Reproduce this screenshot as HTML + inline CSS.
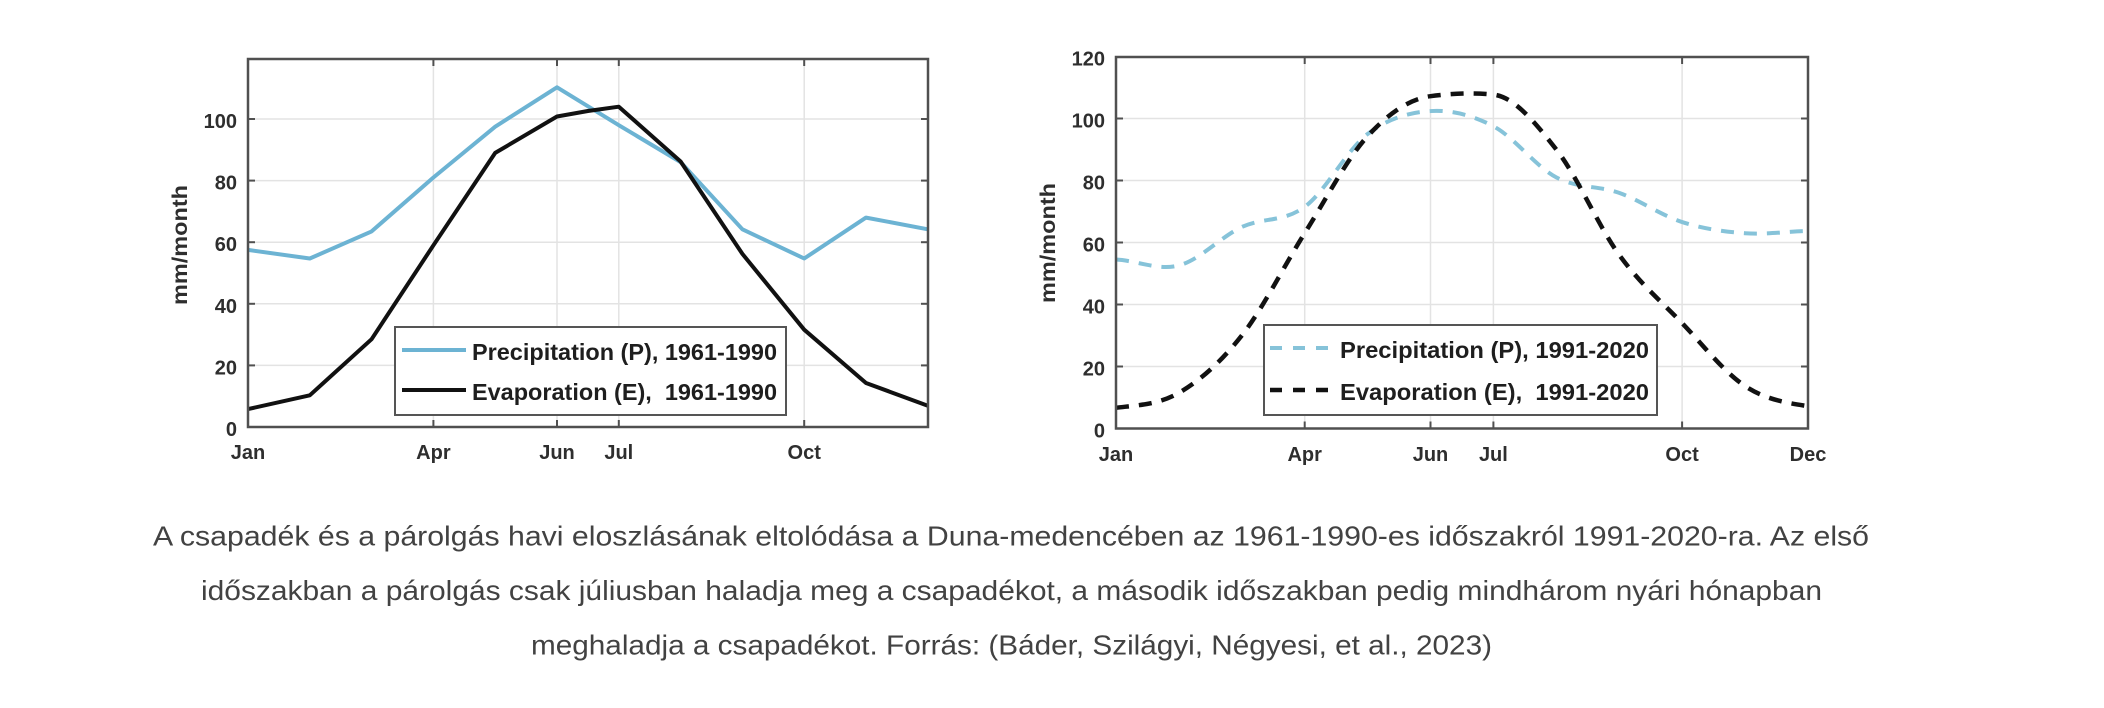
<!DOCTYPE html>
<html>
<head>
<meta charset="utf-8">
<style>
  html, body { margin: 0; padding: 0; background: #ffffff; }
  body { width: 2104px; height: 708px; overflow: hidden; }
  svg { display: block; }
  .tick { font-family: "Liberation Sans", Arial, sans-serif; font-weight: bold; font-size: 20px; fill: #2e2e2e; }
  .leg { font-family: "Liberation Sans", Arial, sans-serif; font-weight: bold; font-size: 23px; fill: #1e1e1e; white-space: pre; }
  .ylab { font-family: "Liberation Sans", Arial, sans-serif; font-weight: bold; font-size: 21px; fill: #2e2e2e; }
  .cap { font-family: "Liberation Sans", "DejaVu Sans", sans-serif; font-size: 28px; fill: #424242; }
</style>
</head>
<body>
<svg width="2104" height="708" viewBox="0 0 2104 708" xmlns="http://www.w3.org/2000/svg">
  <rect x="0" y="0" width="2104" height="708" fill="#ffffff"/>

  <!-- ================= LEFT CHART ================= -->
  <g>
    <!-- grid -->
    <g stroke="#e3e3e3" stroke-width="1.5">
      <line x1="248" y1="365.4" x2="928" y2="365.4"/>
      <line x1="248" y1="303.8" x2="928" y2="303.8"/>
      <line x1="248" y1="242.2" x2="928" y2="242.2"/>
      <line x1="248" y1="180.6" x2="928" y2="180.6"/>
      <line x1="248" y1="119" x2="928" y2="119"/>
      <line x1="433.4" y1="59" x2="433.4" y2="427"/>
      <line x1="557" y1="59" x2="557" y2="427"/>
      <line x1="618.8" y1="59" x2="618.8" y2="427"/>
      <line x1="804.2" y1="59" x2="804.2" y2="427"/>
    </g>
    <!-- ticks -->
    <g stroke="#505050" stroke-width="2">
      <line x1="248" y1="365.4" x2="255" y2="365.4"/>
      <line x1="248" y1="303.8" x2="255" y2="303.8"/>
      <line x1="248" y1="242.2" x2="255" y2="242.2"/>
      <line x1="248" y1="180.6" x2="255" y2="180.6"/>
      <line x1="248" y1="119" x2="255" y2="119"/>
      <line x1="928" y1="365.4" x2="921" y2="365.4"/>
      <line x1="928" y1="303.8" x2="921" y2="303.8"/>
      <line x1="928" y1="242.2" x2="921" y2="242.2"/>
      <line x1="928" y1="180.6" x2="921" y2="180.6"/>
      <line x1="928" y1="119" x2="921" y2="119"/>
      <line x1="433.4" y1="427" x2="433.4" y2="420"/>
      <line x1="557" y1="427" x2="557" y2="420"/>
      <line x1="618.8" y1="427" x2="618.8" y2="420"/>
      <line x1="804.2" y1="427" x2="804.2" y2="420"/>
      <line x1="433.4" y1="59" x2="433.4" y2="66"/>
      <line x1="557" y1="59" x2="557" y2="66"/>
      <line x1="618.8" y1="59" x2="618.8" y2="66"/>
      <line x1="804.2" y1="59" x2="804.2" y2="66"/>
    </g>
    <!-- series -->
    <polyline fill="none" stroke="#6cb3d3" stroke-width="4" stroke-linejoin="round"
      points="248,249.9 309.8,258.5 371.6,231.4 433.4,177.5 495.2,126.7 557,87.3 618.8,125.2 680.6,162.1 742.4,229.3 804.2,258.5 866,217.6 927.8,229.3"/>
    <polyline fill="none" stroke="#111111" stroke-width="4" stroke-linejoin="round"
      points="248,409.1 309.8,395.3 371.6,339.2 433.4,245.3 495.2,152.9 557,116.5 587.9,111 618.8,106.7 680.6,161.5 742.4,253.9 804.2,329.7 866,383 927.8,405.7"/>
    <!-- frame -->
    <rect x="248" y="59" width="680" height="368" fill="none" stroke="#505050" stroke-width="2.5"/>
    <!-- legend -->
    <rect x="395" y="327" width="391" height="88" fill="#ffffff" stroke="#555555" stroke-width="2"/>
    <line x1="402" y1="350" x2="466" y2="350" stroke="#6cb3d3" stroke-width="4"/>
    <line x1="402" y1="390" x2="466" y2="390" stroke="#111111" stroke-width="4"/>
    <text class="leg" x="472" y="360" textLength="305" lengthAdjust="spacingAndGlyphs">Precipitation (P), 1961-1990</text>
    <text class="leg" x="472" y="400" textLength="305" lengthAdjust="spacingAndGlyphs" xml:space="preserve">Evaporation (E),  1961-1990</text>
    <!-- y tick labels -->
    <g class="tick" text-anchor="end">
      <text x="237" y="436">0</text>
      <text x="237" y="374.4">20</text>
      <text x="237" y="312.8">40</text>
      <text x="237" y="251.2">60</text>
      <text x="237" y="189.6">80</text>
      <text x="237" y="128">100</text>
    </g>
    <!-- x tick labels -->
    <g class="tick" text-anchor="middle">
      <text x="248" y="459">Jan</text>
      <text x="433.4" y="459">Apr</text>
      <text x="557" y="459">Jun</text>
      <text x="618.8" y="459">Jul</text>
      <text x="804.2" y="459">Oct</text>
    </g>
    <text class="ylab" transform="translate(187,245) rotate(-90)" text-anchor="middle" textLength="120" lengthAdjust="spacingAndGlyphs">mm/month</text>
  </g>

  <!-- ================= RIGHT CHART ================= -->
  <g>
    <g stroke="#e3e3e3" stroke-width="1.5">
      <line x1="1116" y1="366.5" x2="1808" y2="366.5"/>
      <line x1="1116" y1="304.5" x2="1808" y2="304.5"/>
      <line x1="1116" y1="242.5" x2="1808" y2="242.5"/>
      <line x1="1116" y1="180.5" x2="1808" y2="180.5"/>
      <line x1="1116" y1="118.5" x2="1808" y2="118.5"/>
      <line x1="1304.7" y1="57" x2="1304.7" y2="428.5"/>
      <line x1="1430.5" y1="57" x2="1430.5" y2="428.5"/>
      <line x1="1493.4" y1="57" x2="1493.4" y2="428.5"/>
      <line x1="1682.1" y1="57" x2="1682.1" y2="428.5"/>
    </g>
    <g stroke="#505050" stroke-width="2">
      <line x1="1116" y1="366.5" x2="1123" y2="366.5"/>
      <line x1="1116" y1="304.5" x2="1123" y2="304.5"/>
      <line x1="1116" y1="242.5" x2="1123" y2="242.5"/>
      <line x1="1116" y1="180.5" x2="1123" y2="180.5"/>
      <line x1="1116" y1="118.5" x2="1123" y2="118.5"/>
      <line x1="1808" y1="366.5" x2="1801" y2="366.5"/>
      <line x1="1808" y1="304.5" x2="1801" y2="304.5"/>
      <line x1="1808" y1="242.5" x2="1801" y2="242.5"/>
      <line x1="1808" y1="180.5" x2="1801" y2="180.5"/>
      <line x1="1808" y1="118.5" x2="1801" y2="118.5"/>
      <line x1="1304.7" y1="428.5" x2="1304.7" y2="421.5"/>
      <line x1="1430.5" y1="428.5" x2="1430.5" y2="421.5"/>
      <line x1="1493.4" y1="428.5" x2="1493.4" y2="421.5"/>
      <line x1="1682.1" y1="428.5" x2="1682.1" y2="421.5"/>
      <line x1="1304.7" y1="57" x2="1304.7" y2="64"/>
      <line x1="1430.5" y1="57" x2="1430.5" y2="64"/>
      <line x1="1493.4" y1="57" x2="1493.4" y2="64"/>
      <line x1="1682.1" y1="57" x2="1682.1" y2="64"/>
    </g>
    <!-- P dashed -->
    <path fill="none" stroke="#86c3d9" stroke-width="4" stroke-dasharray="13 10"
      d="M1116,259.55 C1136.97,260.53 1157.93,270.87 1178.9,265.44
         C1199.87,260.01 1220.83,236.77 1241.8,227
         C1262.77,217.23 1283.73,222.35 1304.7,206.85
         C1325.67,191.35 1346.63,149.97 1367.6,134
         C1388.57,118.03 1409.53,112.35 1430.5,111.06
         C1451.47,109.77 1472.43,115.19 1493.4,126.25
         C1514.37,137.31 1535.33,166.29 1556.3,177.4
         C1577.27,188.51 1598.23,185.46 1619.2,192.9
         C1640.17,200.34 1661.13,215.32 1682.1,222.04
         C1703.07,228.76 1724.03,231.7 1745,233.2
         C1765.97,234.7 1786.93,231.39 1807.9,231.03"/>
    <!-- E dashed -->
    <path fill="none" stroke="#111111" stroke-width="4.5" stroke-dasharray="13 10"
      d="M1116,407.73 C1136.97,405.25 1157.93,404.89 1178.9,392.85
         C1199.87,380.81 1220.83,362.11 1241.8,335.5
         C1262.77,308.89 1283.73,266.42 1304.7,233.2
         C1325.67,199.98 1346.63,159.01 1367.6,136.17
         C1388.57,113.33 1409.53,98.86 1430.5,96.18
         C1451.47,93.5 1472.43,92.5 1493.4,94.63
         C1514.37,96.76 1535.33,122.79 1556.3,149.5
         C1577.27,176.21 1598.23,225.97 1619.2,254.9
         C1640.17,283.83 1661.13,301.24 1682.1,323.1
         C1703.07,344.96 1724.03,372.18 1745,386.03
         C1765.97,399.88 1786.93,402.82 1807.9,406.18"/>
    <rect x="1116" y="57" width="692" height="371.5" fill="none" stroke="#505050" stroke-width="2.5"/>
    <!-- legend -->
    <rect x="1264" y="325" width="393" height="90" fill="#ffffff" stroke="#555555" stroke-width="2"/>
    <line x1="1270" y1="348" x2="1336" y2="348" stroke="#86c3d9" stroke-width="4" stroke-dasharray="12 11"/>
    <line x1="1270" y1="390" x2="1336" y2="390" stroke="#111111" stroke-width="4.5" stroke-dasharray="12 11"/>
    <text class="leg" x="1340" y="358" textLength="309" lengthAdjust="spacingAndGlyphs">Precipitation (P), 1991-2020</text>
    <text class="leg" x="1340" y="400" textLength="309" lengthAdjust="spacingAndGlyphs" xml:space="preserve">Evaporation (E),  1991-2020</text>
    <g class="tick" text-anchor="end">
      <text x="1105" y="437.5">0</text>
      <text x="1105" y="375.5">20</text>
      <text x="1105" y="313.5">40</text>
      <text x="1105" y="251.5">60</text>
      <text x="1105" y="189.5">80</text>
      <text x="1105" y="127.5">100</text>
      <text x="1105" y="65.5">120</text>
    </g>
    <g class="tick" text-anchor="middle">
      <text x="1116" y="461">Jan</text>
      <text x="1304.7" y="461">Apr</text>
      <text x="1430.5" y="461">Jun</text>
      <text x="1493.4" y="461">Jul</text>
      <text x="1682.1" y="461">Oct</text>
      <text x="1808" y="461">Dec</text>
    </g>
    <text class="ylab" transform="translate(1055,243) rotate(-90)" text-anchor="middle" textLength="120" lengthAdjust="spacingAndGlyphs">mm/month</text>
  </g>

  <!-- ================= CAPTION ================= -->
  <text class="cap" x="153" y="545.5" textLength="1716" lengthAdjust="spacingAndGlyphs">A csapadék és a párolgás havi eloszlásának eltolódása a Duna-medencében az 1961-1990-es időszakról 1991-2020-ra. Az első</text>
  <text class="cap" x="201" y="600" textLength="1621" lengthAdjust="spacingAndGlyphs">időszakban a párolgás csak júliusban haladja meg a csapadékot, a második időszakban pedig mindhárom nyári hónapban</text>
  <text class="cap" x="531" y="654.5" textLength="961" lengthAdjust="spacingAndGlyphs">meghaladja a csapadékot. Forrás: (Báder, Szilágyi, Négyesi, et al., 2023)</text>
</svg>
</body>
</html>
